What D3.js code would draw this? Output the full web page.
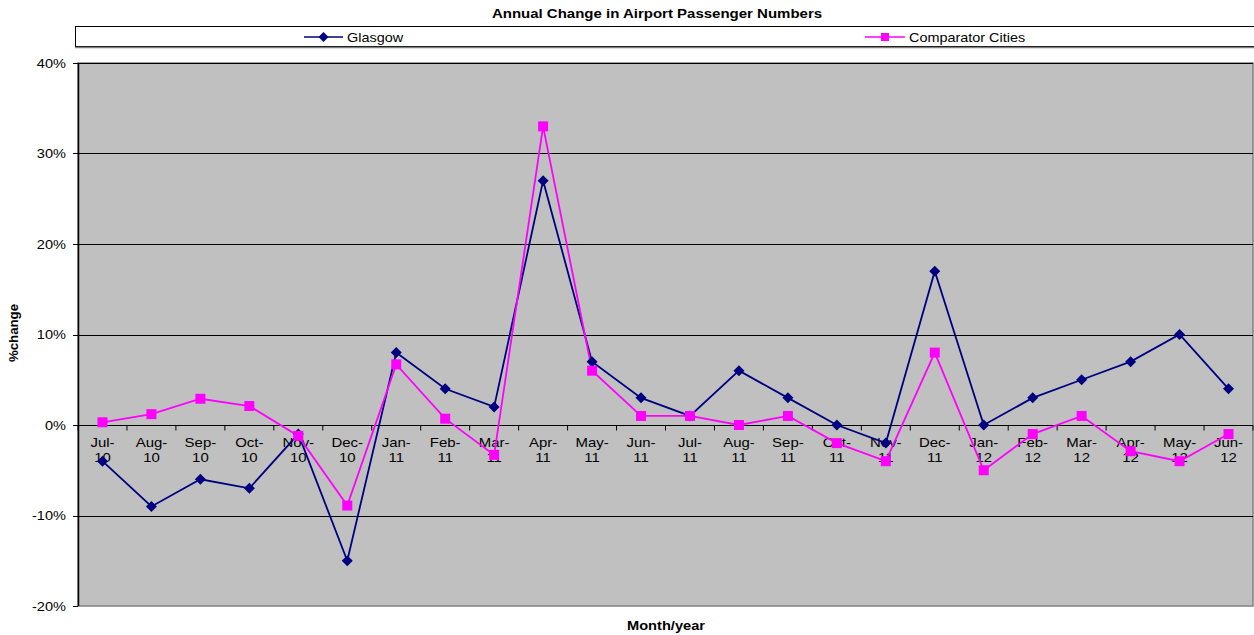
<!DOCTYPE html>
<html>
<head>
<meta charset="utf-8">
<script src="https://cdn.jsdelivr.net/npm/d3@7"></script>
<style>
  html, body { margin: 0; padding: 0; background: #fff; }
  svg { display: block; font-family: "Liberation Sans", Arial, sans-serif; }
</style>
</head>
<body>
<svg id="chart" width="1254" height="635"></svg>
<script>
// Month/year categories (Jul-10 .. Jun-12)
const months = ["Jul-10","Aug-10","Sep-10","Oct-10","Nov-10","Dec-10","Jan-11","Feb-11","Mar-11","Apr-11","May-11","Jun-11",
                "Jul-11","Aug-11","Sep-11","Oct-11","Nov-11","Dec-11","Jan-12","Feb-12","Mar-12","Apr-12","May-12","Jun-12"];
// Annual % change in passengers
const glasgow    = [-4, -9, -6, -7, -1, -15, 8, 4, 2, 27, 7, 3, 1, 6, 3, 0, -2, 17, 0, 3, 5, 7, 10, 4];
const comparator = [0.3, 1.2, 2.9, 2.1, -1.2, -8.9, 6.7, 0.7, -3.3, 33, 6, 1, 1, 0, 1, -2, -4, 8, -5, -1, 1, -2.9, -4, -1];
const yTicks = [-20, -10, 0, 10, 20, 30, 40];
const seriesNames = ["Glasgow", "Comparator Cities"];

const svg = d3.select("#chart");
const plot = { left: 78, right: 1253, top: 63, bottom: 606 };

const x = d3.scaleBand().domain(months).range([plot.left, plot.right]).padding(0);
const y = d3.scaleLinear().domain([-20, 40]).range([plot.bottom, plot.top]);

// Text helper: horizontally widened Arial-style lettering
function label(parent, tx, ty, str, o = {}) {
  const t = parent.append("text")
    .attr("transform", `translate(${tx},${ty})${o.rotate ? ` rotate(${o.rotate})` : ""} scale(${o.sx || 1.14},1)`)
    .attr("text-anchor", o.anchor || "start")
    .attr("font-size", o.size || 13)
    .attr("fill", "#000")
    .text(str);
  if (o.bold) t.attr("font-weight", "bold");
  return t;
}

// Diamond marker with equal width and height
function diamond(r) {
  return `M0,${-r}L${r},0L0,${r}L${-r},0Z`;
}
const square = d3.symbol().type(d3.symbolSquare).size(100)();

// Title
label(svg, 657, 18, "Annual Change in Airport Passenger Numbers", { anchor: "middle", size: 12, bold: true, sx: 1.25 });

// Legend box
svg.append("rect").attr("x", 75.5).attr("y", 26.5).attr("width", 1200).attr("height", 20)
  .attr("fill", "#fff").attr("stroke", "#000");
svg.append("line").attr("x1", 75).attr("x2", 1254).attr("y1", 47.5).attr("y2", 47.5)
  .attr("stroke", "#808080").attr("stroke-width", 1.5);

const legendItems = [
  { name: seriesNames[0], color: "#000080", d: diamond(5), x0: 304, x1: 343, tx: 347 },
  { name: seriesNames[1], color: "#FF00FF", d: d3.symbol().type(d3.symbolSquare).size(64)(), x0: 865, x1: 905, tx: 909 }
];
legendItems.forEach(d => {
  svg.append("line").attr("x1", d.x0).attr("x2", d.x1).attr("y1", 37).attr("y2", 37)
    .attr("stroke", d.color).attr("stroke-width", 1.6);
  svg.append("path").attr("d", d.d).attr("transform", `translate(${(d.x0 + d.x1) / 2},37)`).attr("fill", d.color);
  label(svg, d.tx, 41.5, d.name, { size: 13, sx: 1.11 });
});

// Plot area
svg.append("rect").attr("x", plot.left).attr("y", plot.top).attr("width", plot.right - plot.left)
  .attr("height", plot.bottom - plot.top).attr("fill", "#C0C0C0").attr("stroke", "#808080").attr("stroke-width", 1.5);

// Horizontal gridlines
svg.append("g").selectAll("line").data(yTicks.filter(t => t !== -20)).join("line")
  .attr("x1", plot.left).attr("x2", plot.right)
  .attr("y1", d => Math.round(y(d)) + 0.5).attr("y2", d => Math.round(y(d)) + 0.5)
  .attr("stroke", "#000").attr("stroke-width", 1);

// Y axis line, ticks and labels
svg.append("line").attr("x1", plot.left + 0.5).attr("x2", plot.left + 0.5).attr("y1", plot.top).attr("y2", plot.bottom)
  .attr("stroke", "#000").attr("stroke-width", 1.5);
svg.append("g").selectAll("line").data(yTicks).join("line")
  .attr("x1", plot.left - 5).attr("x2", plot.left)
  .attr("y1", d => Math.round(y(d)) + 0.5).attr("y2", d => Math.round(y(d)) + 0.5)
  .attr("stroke", "#000");
const yLab = svg.append("g");
yTicks.forEach(t => label(yLab, 66, y(t) + 4.5, t + "%", { anchor: "end", size: 13, sx: 1.12 }));

// X axis along the zero line: ticks at category boundaries, two-line labels
const zeroY = Math.round(y(0)) + 0.5;
svg.append("g").selectAll("line").data(d3.range(months.length + 1)).join("line")
  .attr("x1", i => plot.left + i * x.bandwidth()).attr("x2", i => plot.left + i * x.bandwidth())
  .attr("y1", zeroY).attr("y2", zeroY + 5).attr("stroke", "#000");
const xLab = svg.append("g");
months.forEach(m => {
  const [mon, yr] = m.split("-");
  const cxm = x(m) + x.bandwidth() / 2;
  label(xLab, cxm, zeroY + 21.5, mon + "-", { anchor: "middle", size: 13, sx: 1.15 });
  label(xLab, cxm, zeroY + 36.5, yr, { anchor: "middle", size: 13, sx: 1.15 });
});

// Axis titles
label(svg, 666, 630, "Month/year", { anchor: "middle", size: 12, bold: true, sx: 1.22 });
label(svg, 18, 333, "%change", { anchor: "middle", size: 12, bold: true, sx: 1.1, rotate: -90 });

// Series
const cx = (d, i) => x(months[i]) + x.bandwidth() / 2;
const line = d3.line().x(cx).y(d => y(d));
const series = [
  { values: glasgow, color: "#000080", d: diamond(5.5) },
  { values: comparator, color: "#FF00FF", d: square }
];
series.forEach(s => {
  svg.append("path").datum(s.values).attr("d", line).attr("fill", "none")
    .attr("stroke", s.color).attr("stroke-width", 1.8);
});
series.forEach(s => {
  svg.append("g").selectAll("path").data(s.values).join("path")
    .attr("d", s.d)
    .attr("transform", (d, i) => `translate(${cx(d, i)},${y(d)})`)
    .attr("fill", s.color);
});
</script>
</body>
</html>
